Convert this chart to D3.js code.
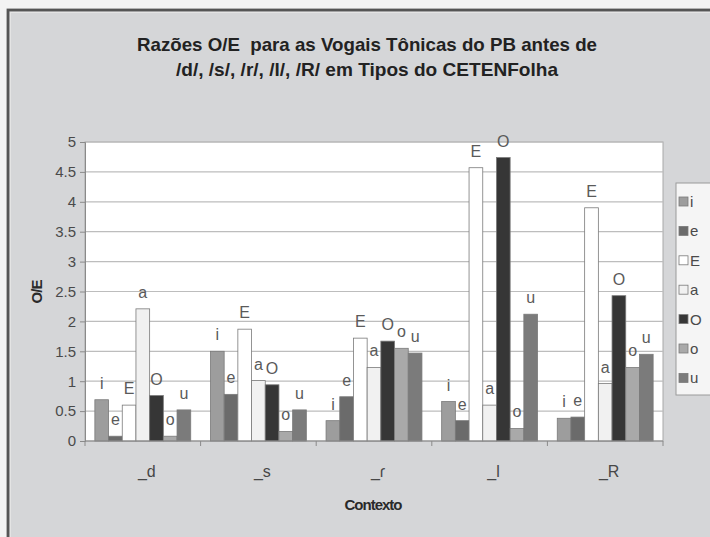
<!DOCTYPE html>
<html>
<head>
<meta charset="utf-8">
<script src="https://cdn.jsdelivr.net/npm/d3@7"></script>
<style>
  html, body { margin: 0; padding: 0; background: #f3f3f3; }
  svg { display: block; }
  text { font-family: "Liberation Sans", Arial, sans-serif; }
</style>
</head>
<body>
<svg id="chart" width="710" height="537"></svg>
<script>
// Contexts (following consonant) and tonic vowels
const contexts = ["_d", "_s", "_ɾ", "_l", "_R"];
const vowels = ["i", "e", "E", "a", "O", "o", "u"];

// O/E ratios per vowel, one value per context
const ratio_i = [0.69, 1.50, 0.34, 0.66, 0.38];
const ratio_e = [0.08, 0.78, 0.74, 0.34, 0.40];
const ratio_E = [0.60, 1.87, 1.72, 4.57, 3.90];
const ratio_a = [2.21, 1.01, 1.23, 0.60, 0.96];
const ratio_O = [0.76, 0.94, 1.67, 4.74, 2.43];
const ratio_o = [0.08, 0.16, 1.55, 0.21, 1.23];
const ratio_u = [0.52, 0.52, 1.47, 2.12, 1.45];

const yTicks = [0, 0.5, 1, 1.5, 2, 2.5, 3, 3.5, 4, 4.5, 5];
const yTickLabels = ["0", "0.5", "1", "1.5", "2", "2.5", "3", "3.5", "4", "4.5", "5"];

const titleLines = ["Razões O/E  para as Vogais Tônicas do PB antes de",
                    "/d/, /s/, /r/, /l/, /R/ em Tipos do CETENFolha"];
const xTitle = "Contexto";
const yTitle = "O/E";

const seriesValues = [ratio_i, ratio_e, ratio_E, ratio_a, ratio_O, ratio_o, ratio_u];
const fills = ["#9d9d9d", "#6b6b6b", "#ffffff", "#f1f1f1", "#363636", "#a9a9a9", "#7b7b7b"];

const rows = [];
vowels.forEach((v, si) => {
  contexts.forEach((c, ci) => rows.push({ vowel: v, context: c, value: seriesValues[si][ci], si }));
});

const svg = d3.select("#chart");
const M = { left: 85, right: 663, top: 142, bottom: 441 };

// chart frame
svg.append("rect").attr("x", 8).attr("y", 10).attr("width", 740).attr("height", 560)
  .attr("fill", "#d5d6d8").attr("stroke", "#555555").attr("stroke-width", 2.8);
svg.append("rect").attr("x", 10.5).attr("y", 12.5).attr("width", 740).attr("height", 560)
  .attr("fill", "none").attr("stroke", "#e4e4e4").attr("stroke-width", 1);

// title
svg.append("g").selectAll("text").data(titleLines).join("text")
  .attr("x", 367).attr("y", (d, i) => 51 + i * 25)
  .attr("text-anchor", "middle")
  .attr("font-size", 19).attr("font-weight", "bold").attr("fill", "#222222")
  .attr("textLength", (d, i) => i === 0 ? 460 : 382)
  .attr("lengthAdjust", "spacingAndGlyphs")
  .style("white-space", "pre")
  .text(d => d);

const x0 = d3.scaleBand().domain(contexts).range([M.left, M.right]).paddingInner(0).paddingOuter(0);
const x1 = d3.scaleBand().domain(vowels).range([0, x0.bandwidth()]).paddingInner(0).paddingOuter(0.72);
const y = d3.scaleLinear().domain([0, 5]).range([M.bottom, M.top]);

// plot area
svg.append("rect").attr("x", M.left).attr("y", M.top)
  .attr("width", M.right - M.left).attr("height", M.bottom - M.top)
  .attr("fill", "#ffffff").attr("stroke", "#a8a8a8").attr("stroke-width", 1);

// gridlines
svg.append("g").selectAll("line").data(yTicks.filter(t => t > 0)).join("line")
  .attr("x1", M.left).attr("x2", M.right)
  .attr("y1", d => y(d)).attr("y2", d => y(d))
  .attr("stroke", "#bdbdbd").attr("stroke-width", 1.2);

// bars
svg.append("g").selectAll("rect").data(rows).join("rect")
  .attr("x", d => x0(d.context) + x1(d.vowel))
  .attr("y", d => y(d.value))
  .attr("width", x1.bandwidth())
  .attr("height", d => y(0) - y(d.value))
  .attr("fill", d => fills[d.si])
  .attr("stroke", "#7a7a7a").attr("stroke-width", 0.8);

// data labels (vowel name above each bar)
svg.append("g").selectAll("text").data(rows).join("text")
  .attr("x", d => x0(d.context) + x1(d.vowel) + x1.bandwidth() / 2)
  .attr("y", d => y(d.value) - 11)
  .attr("text-anchor", "middle")
  .attr("font-size", 16).attr("fill", "#5a5a5a")
  .text(d => d.vowel);

// y axis
const yAxis = d3.axisLeft(y).tickValues(yTicks).tickSize(5).tickPadding(4)
  .tickFormat((d, i) => yTickLabels[i]);
const gy = svg.append("g").attr("transform", `translate(${M.left},0)`).call(yAxis);
gy.select(".domain").attr("stroke", "#8a8a8a");
gy.selectAll(".tick line").attr("stroke", "#8a8a8a");
gy.selectAll(".tick text").attr("font-size", 15).attr("fill", "#4a4a4a")
  .attr("font-family", "Liberation Sans, Arial, sans-serif");

// x axis: ticks at category boundaries
const gx = svg.append("g").attr("transform", `translate(0,${M.bottom})`);
gx.append("line").attr("x1", M.left).attr("x2", M.right).attr("stroke", "#8a8a8a");
const bounds = contexts.map(c => x0(c)).concat([M.right]);
gx.selectAll("line.tk").data(bounds).join("line").attr("class", "tk")
  .attr("x1", d => d).attr("x2", d => d).attr("y1", 0).attr("y2", 5)
  .attr("stroke", "#8a8a8a");
gx.selectAll("text").data(contexts).join("text")
  .attr("x", d => x0(d) + x0.bandwidth() / 2 + 4)
  .attr("y", 36)
  .attr("text-anchor", "middle")
  .attr("font-size", 16).attr("fill", "#474747")
  .text(d => d);

// axis titles
svg.append("text").attr("x", 373).attr("y", 510).attr("text-anchor", "middle")
  .attr("font-size", 15).attr("font-weight", "bold").attr("fill", "#2a2a2a")
  .attr("letter-spacing", -1)
  .text(xTitle);
svg.append("text").attr("transform", "translate(42,292) rotate(-90)")
  .attr("text-anchor", "middle")
  .attr("font-size", 15).attr("font-weight", "bold").attr("fill", "#2a2a2a")
  .attr("letter-spacing", -1)
  .text(yTitle);

// legend
svg.append("rect").attr("x", 676).attr("y", 183).attr("width", 60).attr("height", 212)
  .attr("fill", "#f5f5f5").attr("stroke", "#9a9a9a");
const lg = svg.append("g").selectAll("g").data(vowels).join("g")
  .attr("transform", (d, i) => `translate(679,${202 + i * 29.4})`);
lg.append("rect").attr("x", 0).attr("y", -5).attr("width", 9).attr("height", 9)
  .attr("fill", (d, i) => fills[i]).attr("stroke", "#7a7a7a").attr("stroke-width", 0.8);
lg.append("text").attr("x", 11).attr("y", 5)
  .attr("font-size", 15).attr("fill", "#4a4a4a")
  .text(d => d);
</script>
</body>
</html>
